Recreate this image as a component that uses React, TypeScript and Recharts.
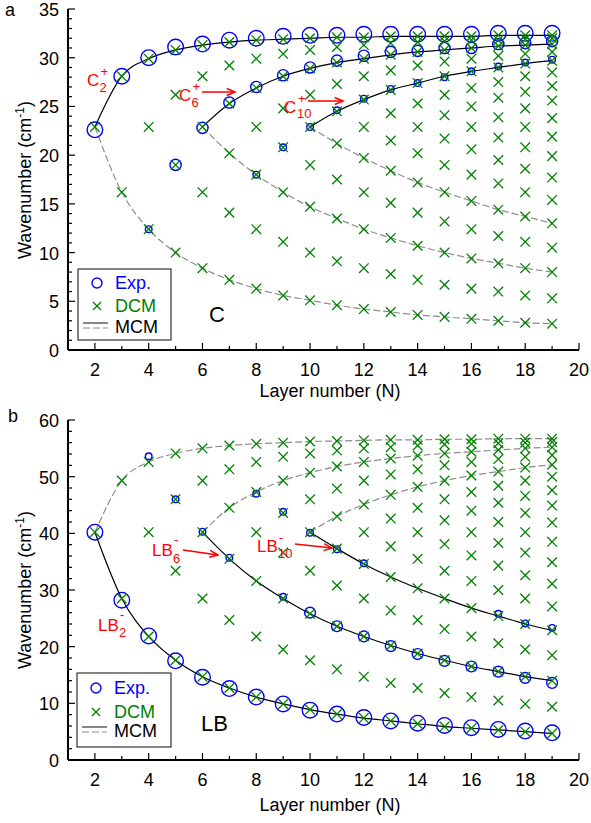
import React from "react";
import { ComposedChart, Line, Scatter, XAxis, YAxis } from "recharts";

const FONT = "'Liberation Sans', Arial, sans-serif";
const BLUE = "#0000ff";
const GREEN = "#008000";
const RED = "#ff0000";
const GRAY = "#8c8c8c";

// x ticks (layer number), y ticks for both panels
const xTicks = [2, 3, 4, 5, 6, 7, 8, 9, 10, 11, 12, 13, 14, 15, 16, 17, 18, 19, 20];
const cTicks = [0, 1, 2, 3, 4, 5, 6, 7, 8, 9, 10, 11, 12, 13, 14, 15, 16, 17, 18, 19, 20, 21, 22, 23, 24, 25, 26, 27, 28, 29, 30, 31, 32, 33, 34, 35];
const lbTicks = [0, 2, 4, 6, 8, 10, 12, 14, 16, 18, 20, 22, 24, 26, 28, 30, 32, 34, 36, 38, 40, 42, 44, 46, 48, 50, 52, 54, 56, 58, 60];

// ---- panel a: C (shear) modes ----
// DCM, one row per layer number N = 2..19
const cDcm = [
  [22.9],
  [16.2, 28.1],
  [12.4, 22.9, 29.9],
  [10.0, 19.0, 26.2, 30.8],
  [8.4, 16.2, 22.9, 28.1, 31.3],
  [7.2, 14.1, 20.2, 25.3, 29.2, 31.6],
  [6.3, 12.4, 18.0, 22.9, 26.9, 29.9, 31.8],
  [5.6, 11.1, 16.2, 20.8, 24.8, 28.1, 30.4, 31.9],
  [5.1, 10.0, 14.7, 19.0, 22.9, 26.2, 28.9, 30.8, 32.0],
  [4.6, 9.1, 13.5, 17.5, 21.2, 24.5, 27.3, 29.5, 31.1, 32.1],
  [4.2, 8.4, 12.4, 16.2, 19.7, 22.9, 25.7, 28.1, 29.9, 31.3, 32.1],
  [3.9, 7.8, 11.5, 15.1, 18.4, 21.5, 24.3, 26.7, 28.7, 30.3, 31.5, 32.2],
  [3.6, 7.2, 10.7, 14.1, 17.2, 20.2, 22.9, 25.3, 27.4, 29.2, 30.6, 31.6, 32.2],
  [3.4, 6.7, 10.0, 13.2, 16.2, 19.0, 21.7, 24.1, 26.2, 28.1, 29.6, 30.8, 31.7, 32.2],
  [3.2, 6.3, 9.4, 12.4, 15.3, 18.0, 20.6, 22.9, 25.0, 26.9, 28.6, 29.9, 31.0, 31.8, 32.2],
  [3.0, 6.0, 8.9, 11.7, 14.4, 17.1, 19.5, 21.8, 23.9, 25.9, 27.5, 29.0, 30.2, 31.2, 31.8, 32.3],
  [2.8, 5.6, 8.4, 11.1, 13.7, 16.2, 18.6, 20.8, 22.9, 24.8, 26.5, 28.1, 29.4, 30.4, 31.3, 31.9, 32.3],
  [2.7, 5.3, 8.0, 10.5, 13.0, 15.4, 17.7, 19.9, 21.9, 23.8, 25.6, 27.1, 28.5, 29.7, 30.6, 31.4, 32.0, 32.3],
];
// MCM branches (solid going up, dashed going down), starting at N = 2, 6, 10
const cSolid2 = [22.9, 28.1, 29.9, 30.8, 31.3, 31.6, 31.8, 31.9, 32.0, 32.1, 32.1, 32.2, 32.2, 32.2, 32.2, 32.3, 32.3, 32.3];
const cDash2 = [22.9, 16.2, 12.4, 10.0, 8.4, 7.2, 6.3, 5.6, 5.1, 4.6, 4.2, 3.9, 3.6, 3.4, 3.2, 3.0, 2.8, 2.7];
const cSolid6 = [22.9, 25.3, 26.9, 28.1, 28.9, 29.5, 29.9, 30.3, 30.6, 30.8, 31.0, 31.2, 31.3, 31.4];
const cDash6 = [22.9, 20.2, 18.0, 16.2, 14.7, 13.5, 12.4, 11.5, 10.7, 10.0, 9.4, 8.9, 8.4, 8.0];
const cSolid10 = [22.9, 24.5, 25.7, 26.7, 27.4, 28.1, 28.6, 29.0, 29.4, 29.7];
const cDash10 = [22.9, 21.2, 19.7, 18.4, 17.2, 16.2, 15.3, 14.4, 13.7, 13.0];
// experiment, split by marker size
const cExpBig = [22.6, 28.1, 30.0, 31.1, 31.4, 31.8, 32.0, 32.2, 32.3, 32.3, 32.4, 32.4, 32.4, 32.4, 32.4, 32.5, 32.5, 32.5];
const cExpMidN = [5, 6, 7, 8, 9, 10, 11, 12, 13, 14, 15, 16, 17, 18, 19];
const cExpMid = [19.0, 22.8, 25.4, 27.0, 28.2, 29.0, 29.7, 30.2, 30.6, 30.7, 31.0, 31.0, 31.4, 31.5, 31.7];
const cExpSmallN = [4, 8, 9, 10, 11, 12, 13, 14, 15, 16, 17, 18, 19];
const cExpSmall = [12.4, 18.0, 20.8, 22.9, 24.6, 25.8, 26.8, 27.4, 28.0, 28.6, 29.1, 29.5, 29.8];

// ---- panel b: LB (breathing) modes ----
const lbDcm = [
  [40.2],
  [28.5, 49.3],
  [21.8, 40.2, 52.6],
  [17.6, 33.4, 46.0, 54.1],
  [14.7, 28.5, 40.2, 49.3, 55.0],
  [12.7, 24.7, 35.5, 44.5, 51.3, 55.5],
  [11.1, 21.8, 31.6, 40.2, 47.3, 52.6, 55.8],
  [9.9, 19.5, 28.5, 36.6, 43.6, 49.3, 53.5, 56.0],
  [8.9, 17.6, 25.8, 33.4, 40.2, 46.0, 50.7, 54.1, 56.2],
  [8.1, 16.0, 23.6, 30.8, 37.3, 43.0, 47.9, 51.8, 54.6, 56.3],
  [7.4, 14.7, 21.8, 28.5, 34.6, 40.2, 45.1, 49.3, 52.6, 55.0, 56.4],
  [6.9, 13.6, 20.2, 26.4, 32.3, 37.7, 42.6, 46.8, 50.4, 53.2, 55.2, 56.5],
  [6.4, 12.7, 18.8, 24.7, 30.3, 35.5, 40.2, 44.5, 48.2, 51.3, 53.7, 55.5, 56.5],
  [5.9, 11.8, 17.6, 23.1, 28.5, 33.4, 38.1, 42.3, 46.0, 49.3, 52.0, 54.1, 55.7, 56.6],
  [5.6, 11.1, 16.5, 21.8, 26.8, 31.6, 36.1, 40.2, 44.0, 47.3, 50.2, 52.6, 54.4, 55.8, 56.6],
  [5.3, 10.5, 15.6, 20.6, 25.4, 30.0, 34.3, 38.3, 42.0, 45.4, 48.4, 50.9, 53.1, 54.7, 55.9, 56.7],
  [5.0, 9.9, 14.7, 19.5, 24.0, 28.5, 32.6, 36.6, 40.2, 43.6, 46.6, 49.3, 51.6, 53.5, 55.0, 56.0, 56.7],
  [4.7, 9.4, 14.0, 18.5, 22.9, 27.1, 31.1, 34.9, 38.5, 41.9, 44.9, 47.6, 50.0, 52.1, 53.8, 55.2, 56.1, 56.7],
];
const lbSolid2 = [40.2, 28.5, 21.8, 17.6, 14.7, 12.7, 11.1, 9.9, 8.9, 8.1, 7.4, 6.9, 6.4, 5.9, 5.6, 5.3, 5.0, 4.7];
const lbDash2 = [40.2, 49.3, 52.6, 54.1, 55.0, 55.5, 55.8, 56.0, 56.2, 56.3, 56.4, 56.5, 56.5, 56.6, 56.6, 56.7, 56.7, 56.7];
const lbSolid6 = [40.2, 35.5, 31.6, 28.5, 25.8, 23.6, 21.8, 20.2, 18.8, 17.6, 16.5, 15.6, 14.7, 14.0];
const lbDash6 = [40.2, 44.5, 47.3, 49.3, 50.7, 51.8, 52.6, 53.2, 53.7, 54.1, 54.4, 54.7, 55.0, 55.2];
const lbSolid10 = [40.2, 37.3, 34.6, 32.3, 30.3, 28.5, 26.8, 25.4, 24.0, 22.9];
const lbDash10 = [40.2, 43.0, 45.1, 46.8, 48.2, 49.3, 50.2, 50.9, 51.6, 52.1];
const lbExpBig = [40.2, 28.2, 21.9, 17.5, 14.6, 12.6, 11.1, 9.9, 8.8, 8.1, 7.5, 6.9, 6.5, 6.1, 5.7, 5.4, 5.1, 4.8];
const lbExpMid = [26.0, 23.6, 21.8, 20.1, 18.7, 17.5, 16.5, 15.6, 14.5, 13.6];
const lbExpSmallN = [4, 5, 6, 7, 8, 9, 9, 10, 11, 12, 17, 18, 19];
const lbExpSmall = [53.6, 46.0, 40.3, 35.7, 47.0, 43.8, 28.8, 40.1, 37.2, 34.7, 25.8, 24.1, 23.3];

type Pt = { n: number; v: number };
const from = (start: number, vals: number[]): Pt[] => vals.map((v, i) => ({ n: start + i, v }));
const pairs = (ns: number[], vals: number[]): Pt[] => vals.map((v, i) => ({ n: ns[i], v }));
const rows = (r: number[][]): Pt[] => r.flatMap((row, i) => row.map((v) => ({ n: i + 2, v })));

const ring = (r: number) => (p: any) => (
  <circle cx={p.cx} cy={p.cy} r={r} fill="none" stroke={BLUE} strokeWidth={1.4} />
);

const cross = (p: any) => {
  const s = 4.8;
  return (
    <g stroke={GREEN} strokeWidth={1.3}>
      <line x1={p.cx - s} y1={p.cy - s} x2={p.cx + s} y2={p.cy + s} />
      <line x1={p.cx - s} y1={p.cy + s} x2={p.cx + s} y2={p.cy - s} />
    </g>
  );
};

// inward ticks, labels only on majors
const XTick = (p: any) => {
  const v = p.payload.value;
  const major = v % 2 === 0;
  return (
    <g>
      <line x1={p.x} y1={p.y} x2={p.x} y2={p.y - (major ? 7 : 4)} stroke="#000" strokeWidth={1.2} />
      {major && (
        <text x={p.x} y={p.y + 26} textAnchor="middle" fontSize={18} fontFamily={FONT} fill="#000">
          {v}
        </text>
      )}
    </g>
  );
};

const yTick = (step: number) => (p: any) => {
  const v = p.payload.value;
  const major = v % step === 0;
  return (
    <g>
      <line x1={p.x} y1={p.y} x2={p.x + (major ? 7 : 4)} y2={p.y} stroke="#000" strokeWidth={1.2} />
      {major && (
        <text x={p.x - 9} y={p.y + 7} textAnchor="end" fontSize={18} fontFamily={FONT} fill="#000">
          {v}
        </text>
      )}
    </g>
  );
};

type PanelProps = {
  height: number;
  top: number;
  axisH: number;
  yMax: number;
  yTicks: number[];
  yStep: number;
  dcm: Pt[];
  solid: Pt[][];
  dashed: Pt[][];
  rings: { data: Pt[]; r: number }[];
};

const Panel = ({ height, top, axisH, yMax, yTicks, yStep, dcm, solid, dashed, rings }: PanelProps) => (
  <ComposedChart width={591} height={height} margin={{ top, right: 12, bottom: 0, left: 0 }}>
    <XAxis
      dataKey="n"
      type="number"
      domain={[1, 20]}
      allowDataOverflow
      ticks={xTicks}
      interval={0}
      tick={XTick}
      tickLine={false}
      tickSize={0}
      tickMargin={0}
      height={axisH}
      axisLine={{ stroke: "#000", strokeWidth: 2 }}
    />
    <XAxis
      xAxisId="top"
      orientation="top"
      type="number"
      domain={[1, 20]}
      height={0}
      tick={false}
      tickLine={false}
      axisLine={{ stroke: "#333", strokeWidth: 1.8 }}
    />
    <YAxis
      type="number"
      domain={[0, yMax]}
      allowDataOverflow
      ticks={yTicks}
      interval={0}
      tick={yTick(yStep)}
      tickLine={false}
      tickSize={0}
      tickMargin={0}
      width={68}
      axisLine={{ stroke: "#000", strokeWidth: 2 }}
    />
    <YAxis
      yAxisId="right"
      orientation="right"
      type="number"
      domain={[0, yMax]}
      width={0}
      tick={false}
      tickLine={false}
      axisLine={{ stroke: "#333", strokeWidth: 1.8 }}
    />
    {dashed.map((d, i) => (
      <Line key={"d" + i} data={d} dataKey="v" type="monotone" stroke={GRAY} strokeWidth={1.2}
        strokeDasharray="7 3" dot={false} activeDot={false} isAnimationActive={false} />
    ))}
    {solid.map((d, i) => (
      <Line key={"s" + i} data={d} dataKey="v" type="monotone" stroke="#000" strokeWidth={1.2}
        dot={false} activeDot={false} isAnimationActive={false} />
    ))}
    {rings.map((g, i) => (
      <Scatter key={"r" + i} data={g.data} dataKey="v" shape={ring(g.r)} isAnimationActive={false} />
    ))}
    <Scatter data={dcm} dataKey="v" shape={cross} isAnimationActive={false} />
  </ComposedChart>
);

// red mode label: main text, subscript and superscript stacked after it
const Lbl = ({ x, y, main, sub, sup, w, sy, py }: any) => (
  <g fill={RED} fontFamily={FONT}>
    <text x={x} y={y} fontSize={17}>{main}</text>
    <text x={x + w} y={y + sy} fontSize={13}>{sub}</text>
    <text x={x + w + 1} y={y + py} fontSize={13}>{sup}</text>
  </g>
);

const Arrow = ({ x1, y1, x2, y2 }: any) => {
  const a = Math.atan2(y2 - y1, x2 - x1);
  const h = 9;
  const s = 0.4;
  return (
    <g stroke={RED} strokeWidth={1.5} fill="none">
      <line x1={x1} y1={y1} x2={x2} y2={y2} />
      <polyline
        points={`${x2 - h * Math.cos(a - s)},${y2 - h * Math.sin(a - s)} ${x2},${y2} ${x2 - h * Math.cos(a + s)},${y2 - h * Math.sin(a + s)}`}
      />
    </g>
  );
};

const Legend = ({ x, y, w, h, rows: r }: any) => (
  <g fontFamily={FONT} fontSize={18}>
    <rect x={x} y={y} width={w} height={h} fill="#fff" stroke="#333" strokeWidth={1.2} />
    <circle cx={x + 19} cy={r[0] - 6} r={5} fill="none" stroke={BLUE} strokeWidth={1.4} />
    <text x={x + 37} y={r[0]} fill={BLUE}>Exp.</text>
    <g stroke={GREEN} strokeWidth={1.3}>
      <line x1={x + 15} y1={r[1] - 10} x2={x + 23} y2={r[1] - 2} />
      <line x1={x + 15} y1={r[1] - 2} x2={x + 23} y2={r[1] - 10} />
    </g>
    <text x={x + 37} y={r[1]} fill={GREEN}>DCM</text>
    <line x1={x + 5} y1={r[2] - 10} x2={x + 30} y2={r[2] - 10} stroke="#444" strokeWidth={1.3} />
    <line x1={x + 5} y1={r[2] - 5} x2={x + 30} y2={r[2] - 5} stroke={GRAY} strokeWidth={1.2} strokeDasharray="7 3" />
    <text x={x + 37} y={r[2]} fill="#000">MCM</text>
  </g>
);

export default function App() {
  return (
    <div style={{ position: "absolute", left: 0, top: 0, width: 591, height: 823, background: "#fff", fontFamily: FONT }}>
      <div style={{ position: "absolute", left: 0, top: 0 }}>
        <Panel
          height={410}
          top={9}
          axisH={60}
          yMax={35}
          yTicks={cTicks}
          yStep={5}
          dcm={rows(cDcm)}
          solid={[from(2, cSolid2), from(6, cSolid6), from(10, cSolid10)]}
          dashed={[from(2, cDash2), from(6, cDash6), from(10, cDash10)]}
          rings={[
            { data: from(2, cExpBig), r: 7.8 },
            { data: pairs(cExpMidN, cExpMid), r: 5.6 },
            { data: pairs(cExpSmallN, cExpSmall), r: 3.3 },
          ]}
        />
      </div>
      <div style={{ position: "absolute", left: 0, top: 410 }}>
        <Panel
          height={413}
          top={10}
          axisH={63}
          yMax={60}
          yTicks={lbTicks}
          yStep={10}
          dcm={rows(lbDcm)}
          solid={[from(2, lbSolid2), from(6, lbSolid6), from(10, lbSolid10)]}
          dashed={[from(2, lbDash2), from(6, lbDash6), from(10, lbDash10)]}
          rings={[
            { data: from(2, lbExpBig), r: 7.8 },
            { data: from(10, lbExpMid), r: 5.4 },
            { data: pairs(lbExpSmallN, lbExpSmall), r: 3.3 },
          ]}
        />
      </div>
      <svg width={591} height={823} style={{ position: "absolute", left: 0, top: 0, pointerEvents: "none" }}>
        <g fontFamily={FONT} fill="#000">
          <text x={5} y={16} fontSize={18}>a</text>
          <text x={8} y={422} fontSize={18}>b</text>
          <text x={330} y={397} fontSize={18} textAnchor="middle">Layer number (N)</text>
          <text x={330} y={811} fontSize={18} textAnchor="middle">Layer number (N)</text>
          <text transform="translate(31,180) rotate(-90)" fontSize={18} textAnchor="middle">
            Wavenumber (cm<tspan dy={-7} fontSize={12}>-1</tspan><tspan dy={7}>)</tspan>
          </text>
          <text transform="translate(31,590) rotate(-90)" fontSize={18} textAnchor="middle">
            Wavenumber (cm<tspan dy={-7} fontSize={12}>-1</tspan><tspan dy={7}>)</tspan>
          </text>
          <text x={209} y={322} fontSize={22}>C</text>
          <text x={201} y={731} fontSize={22}>LB</text>
        </g>
        <Legend x={78} y={269} w={93} h={71} rows={[289, 312, 333]} />
        <Legend x={77} y={673} w={94} h={74} rows={[694, 718, 737]} />
        <Lbl x={87} y={86} main="C" sub="2" sup="+" w={12.5} sy={6} py={-10} />
        <Lbl x={179} y={101} main="C" sub="6" sup="+" w={12.5} sy={6} py={-10} />
        <Lbl x={284} y={113} main="C" sub="10" sup="+" w={13} sy={5} py={-10} />
        <Arrow x1={202} y1={92} x2={235} y2={92} />
        <Arrow x1={308} y1={101} x2={343} y2={101} />
        <Lbl x={152} y={556} main="LB" sub="6" sup="-" w={21} sy={7} py={-12} />
        <Lbl x={257} y={552} main="LB" sub="10" sup="-" w={21} sy={6} py={-10} />
        <Lbl x={98} y={631} main="LB" sub="2" sup="-" w={21} sy={6} py={-12} />
        <Arrow x1={183} y1={550} x2={218} y2={555} />
        <Arrow x1={295} y1={544} x2={332} y2={548} />
      </svg>
    </div>
  );
}
